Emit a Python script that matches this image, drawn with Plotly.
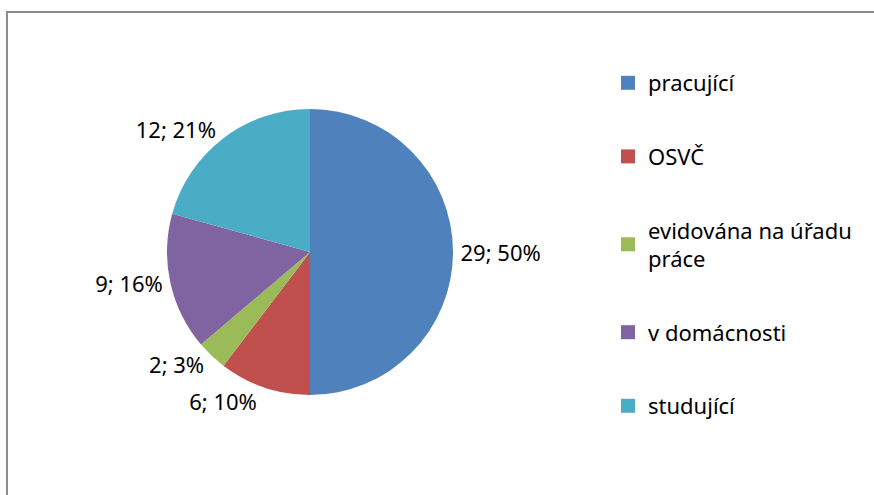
import textwrap
import plotly.graph_objects as go

categories = ["pracující", "OSVČ", "evidována na úřadu práce", "v domácnosti", "studující"]
values = [29, 6, 2, 9, 12]
colors = ["#4F81BD", "#C0504D", "#9BBB59", "#8064A2", "#4BACC6"]

FONT = "Noto Sans"
W, H = 874, 495
CX, CY, R = 310, 252, 143

fig = go.Figure()
fig.add_trace(go.Pie(
    labels=categories,
    values=values,
    marker=dict(colors=colors, line=dict(width=0)),
    sort=False,
    direction="clockwise",
    rotation=0,
    textposition="outside",
    texttemplate="%{value}; %{percent:.0%}",
    textfont=dict(family=FONT, size=22, color="black"),
    showlegend=False,
    hoverinfo="label+value+percent",
    domain=dict(x=[(CX - R) / W, (CX + R) / W], y=[1 - (CY + R) / H, 1 - (CY - R) / H]),
))

# legend entries (one per category) so the spacing can match the original
for name, col in zip(categories, colors):
    fig.add_trace(go.Scatter(
        x=[None], y=[None], mode="markers", name=textwrap.fill(name, 18).replace("\n", "<br>"),
        marker=dict(symbol="square", size=14, color=col),
        legendgroup=name, showlegend=True,
    ))

fig.update_layout(
    width=W, height=H,
    margin=dict(l=0, r=0, t=0, b=0),
    paper_bgcolor="white", plot_bgcolor="white",
    xaxis=dict(visible=False), yaxis=dict(visible=False),
    legend=dict(
        x=608 / W, y=1 - 62 / H, xanchor="left", yanchor="top",
        font=dict(family=FONT, size=22, color="black"),
        tracegroupgap=42, itemwidth=30, bgcolor="rgba(0,0,0,0)",
    ),
    shapes=[dict(type="rect", xref="paper", yref="paper",
                 x0=7 / W, x1=1.02, y0=-0.02, y1=1 - 12 / H,
                 line=dict(color="#8c8c8c", width=2), fillcolor="rgba(0,0,0,0)")],
)

fig.write_html("out.html", config={"displayModeBar": False},
               post_script="document.body.style.margin='0px';")
